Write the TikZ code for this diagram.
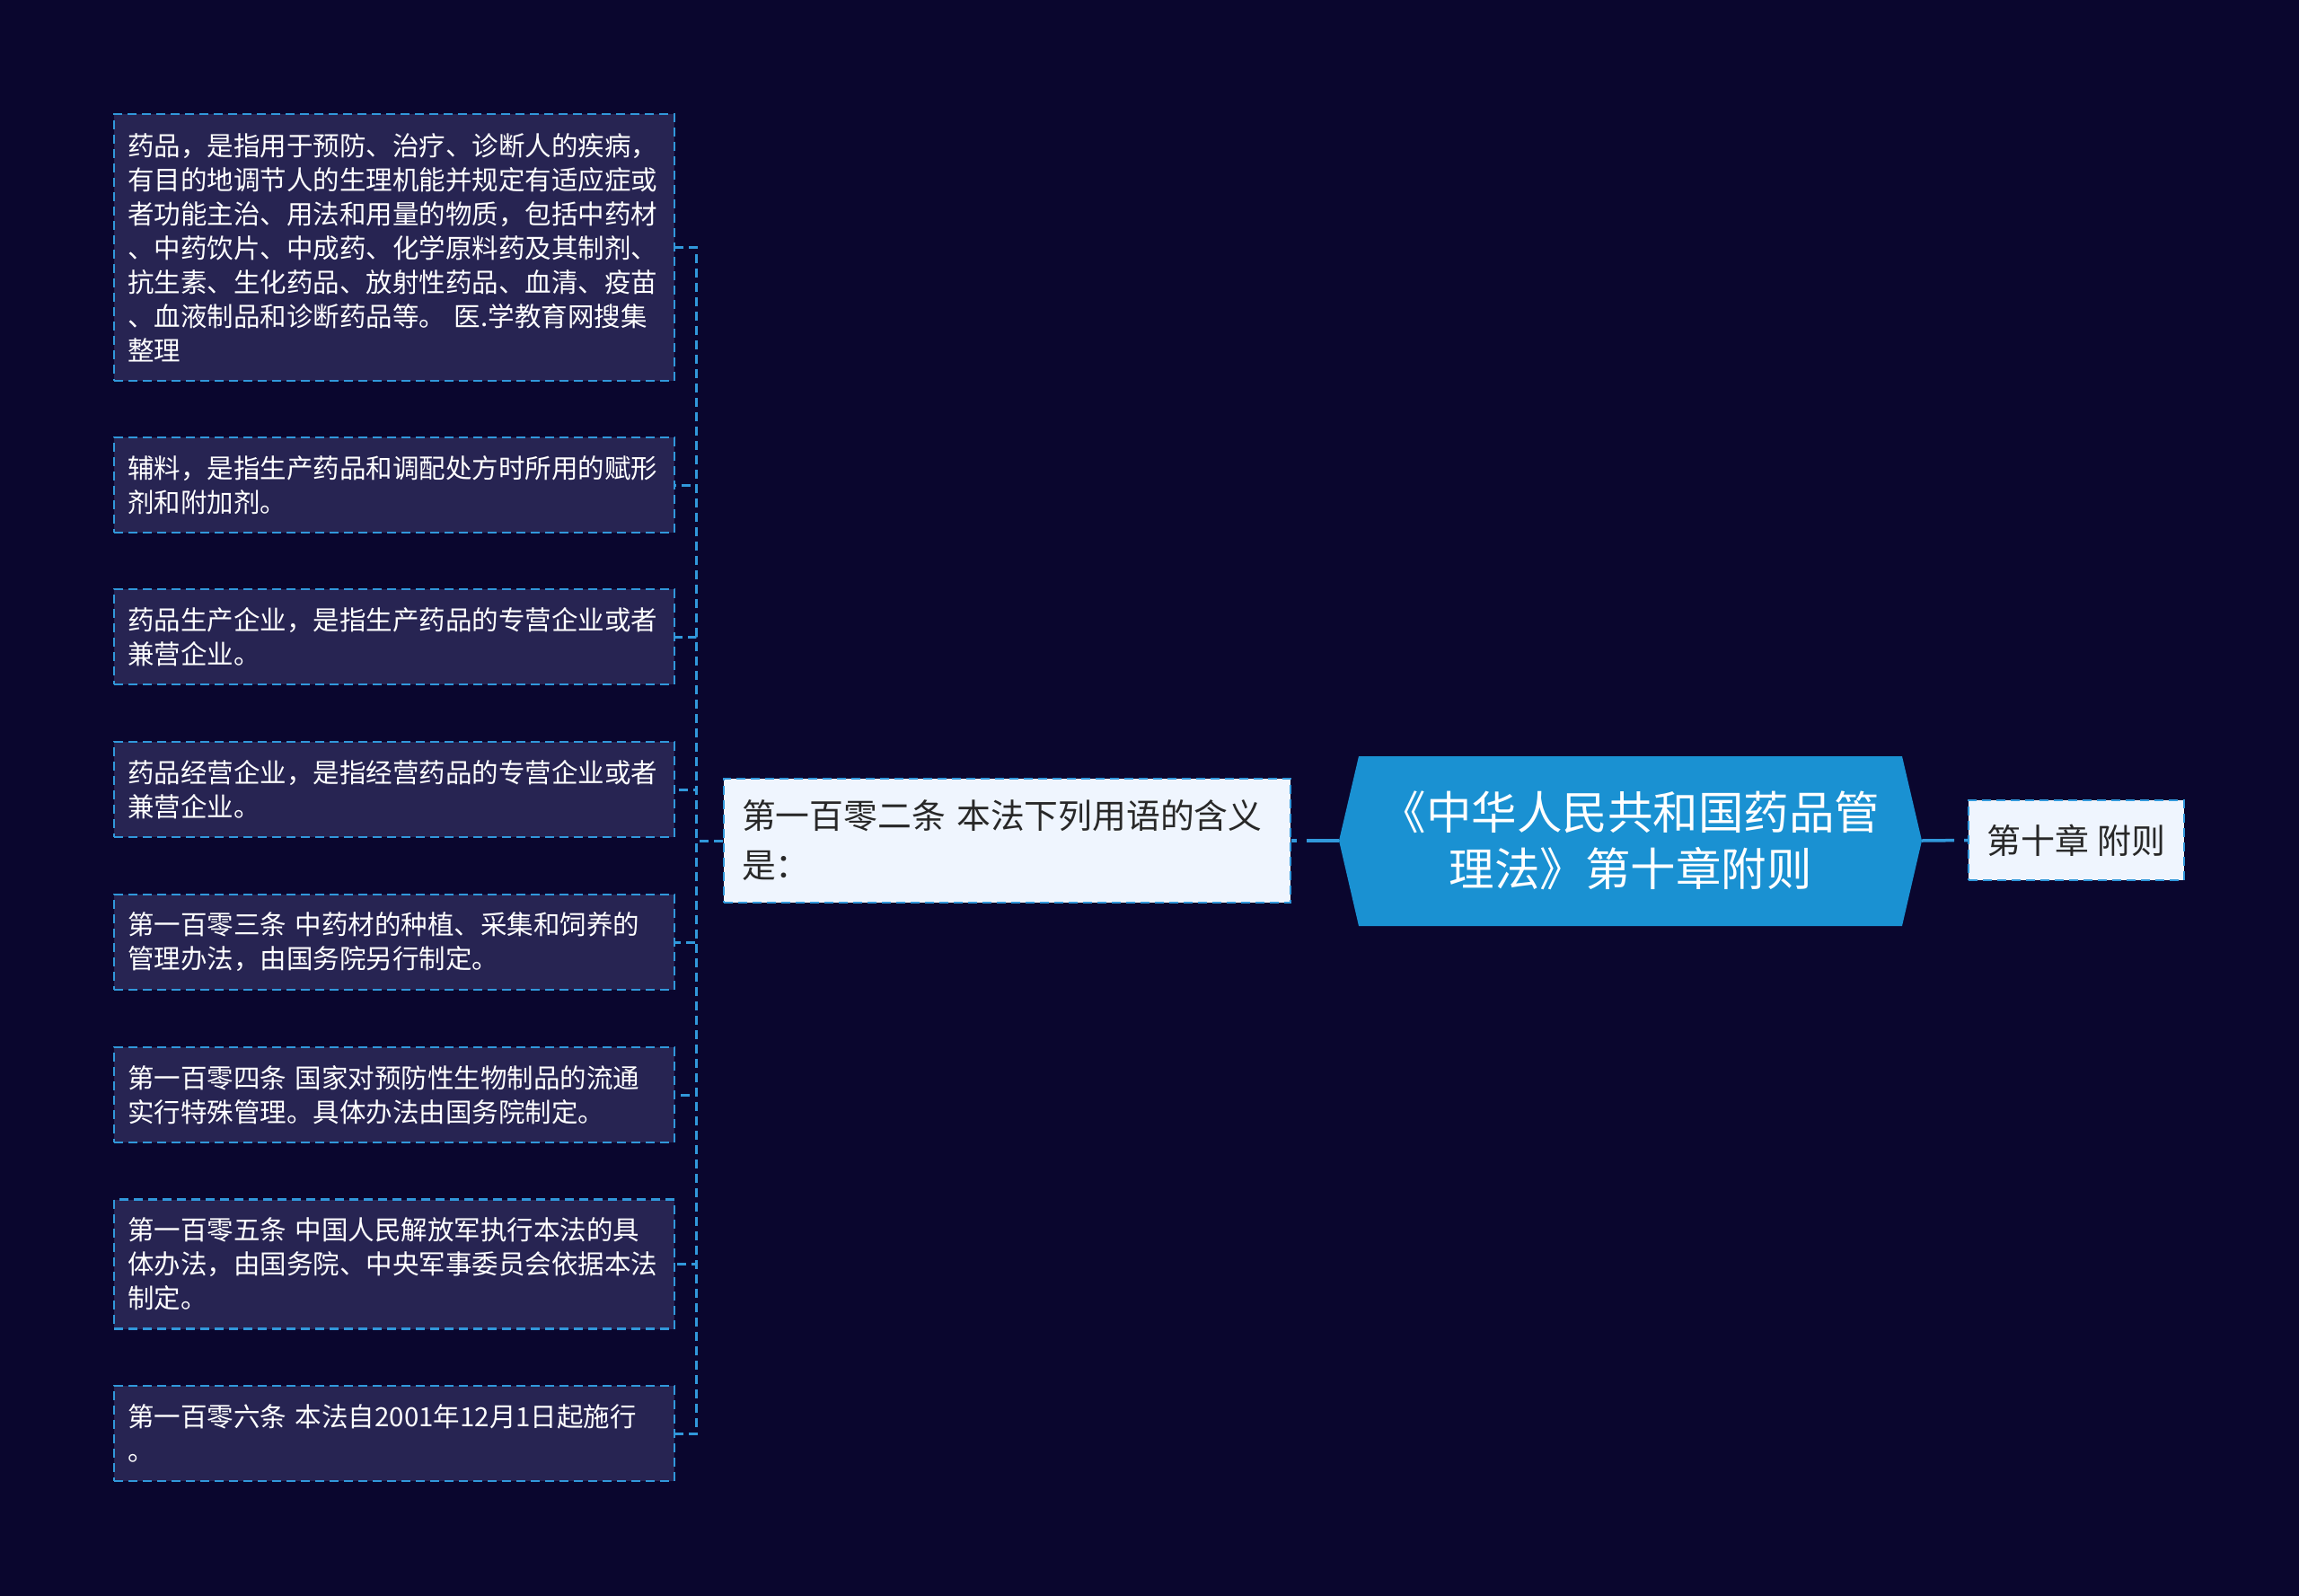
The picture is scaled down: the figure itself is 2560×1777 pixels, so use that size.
\documentclass[tikz,border=0pt]{standalone}
\usepackage{fontspec}
\setmainfont{Noto Sans CJK SC}
\definecolor{bgc}{RGB}{10,6,46}
\definecolor{leaffill}{RGB}{39,36,82}
\definecolor{linec}{RGB}{49,152,219}
\definecolor{rootfill}{RGB}{26,145,210}
\definecolor{midfill}{RGB}{239,245,254}
\definecolor{midtext}{RGB}{40,40,40}
\tikzset{
  leafbox/.style={draw=linec, fill=leaffill, line width=2.5pt, dash pattern=on 10pt off 6pt,
    text=white, align=left, text width=594pt, inner xsep=15pt, inner ysep=4pt,
    minimum width=624pt, font=\fontsize{29.5pt}{38pt}\selectfont},
  midbox/.style={draw=linec, fill=midfill, line width=2.5pt, dash pattern=on 10pt off 6pt,
    text=midtext, align=left, text width=591pt, inner xsep=20pt, inner ysep=4pt,
    minimum width=631pt, minimum height=138pt, font=\fontsize{37.8pt}{55pt}\selectfont},
  chapbox/.style={draw=linec, fill=midfill, line width=2.5pt, dash pattern=on 10pt off 6pt,
    text=midtext, align=center, inner xsep=10pt, inner ysep=4pt,
    minimum width=240pt, minimum height=89pt, font=\fontsize{38pt}{50pt}\selectfont},
  roottext/.style={text=white, align=center, minimum width=649pt, minimum height=189pt,
    inner sep=0pt, font=\fontsize{50.5pt}{63pt}\selectfont},
  treelink/.style={draw=linec, line width=3pt, dash pattern=on 10pt off 6pt},
  rootlink/.style={draw=linec, line width=3.5pt, dash pattern=on 36pt off 11pt},
}
\begin{document}
\begin{tikzpicture}[x=1pt,y=-1pt]
\path[fill=bgc] (0,0) rectangle (2560,1777);
\useasboundingbox (0,0) rectangle (2560,1777);
% root shape
\path[fill=rootfill] (1491,936) -- (1513,842) -- (2118,842) -- (2140,936) -- (2118,1031) -- (1513,1031) -- cycle;
\node[roottext] (root) at (1815.5,936) {《中华人民共和国药品管\\理法》第十章附则};
\node[chapbox] (ch) at (2312,935.5) {第十章 附则};
\node[midbox] (mid) at (1121.5,936) {第一百零二条 本法下列用语的含义\\是：};
% leaves
\node[leafbox, minimum height=297pt] (l1) at (439,275.5) {药品，是指用于预防、治疗、诊断人的疾病，\\有目的地调节人的生理机能并规定有适应症或\\者功能主治、用法和用量的物质，包括中药材\\、中药饮片、中成药、化学原料药及其制剂、\\抗生素、生化药品、放射性药品、血清、疫苗\\、血液制品和诊断药品等。 医.学教育网搜集\\整理};
\node[leafbox, minimum height=106pt] (l2) at (439,540) {辅料，是指生产药品和调配处方时所用的赋形\\剂和附加剂。};
\node[leafbox, minimum height=106pt] (l3) at (439,709) {药品生产企业，是指生产药品的专营企业或者\\兼营企业。};
\node[leafbox, minimum height=106pt] (l4) at (439,879) {药品经营企业，是指经营药品的专营企业或者\\兼营企业。};
\node[leafbox, minimum height=106pt] (l5) at (439,1049) {第一百零三条 中药材的种植、采集和饲养的\\管理办法，由国务院另行制定。};
\node[leafbox, minimum height=106pt] (l6) at (439,1219) {第一百零四条 国家对预防性生物制品的流通\\实行特殊管理。具体办法由国务院制定。};
\node[leafbox, minimum height=144pt] (l7) at (439,1407.5) {第一百零五条 中国人民解放军执行本法的具\\体办法，由国务院、中央军事委员会依据本法\\制定。};
\node[leafbox, minimum height=106pt] (l8) at (439,1596) {第一百零六条 本法自2001年12月1日起施行\\。};
% connectors
\draw[rootlink] (root.west) -- (mid.east);
\draw[rootlink] (root.east) -- (ch.west);
\foreach \i in {1,...,8}{
  \draw[treelink] (mid.west) -- ++(-29,0) |- (l\i.east);
}
\end{tikzpicture}
\end{document}
